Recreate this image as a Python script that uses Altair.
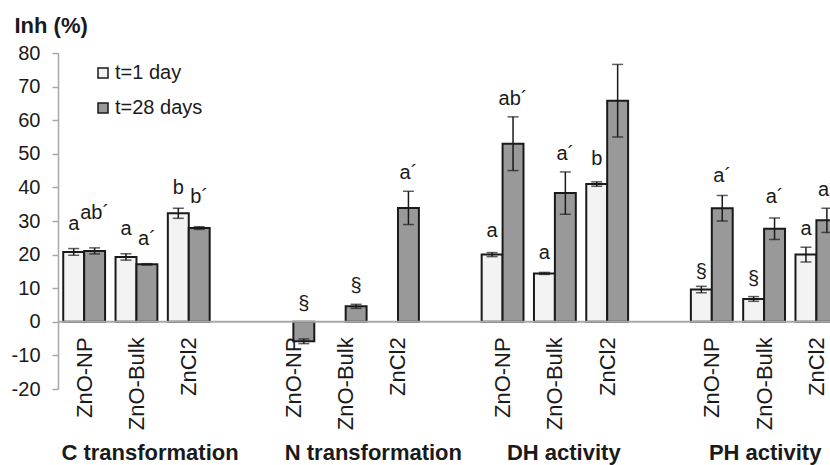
import altair as alt
import pandas as pd

# Categories
GROUPS = ["C transformation", "N transformation", "DH activity", "PH activity"]
COMPOUNDS = ["ZnO-NP", "ZnO-Bulk", "ZnCl2"]
PERIODS = ["t=1 day", "t=28 days"]

# Inhibition (%) per group x compound, in the order of GROUPS then COMPOUNDS
day1_values = [20.8, 19.3, 32.3, None, None, None, 20.0, 14.4, 41.0, 9.6, 6.8, 20.0]
day1_err = [1.0, 0.95, 1.5, None, None, None, 0.6, 0.3, 0.65, 0.95, 0.7, 2.2]
day1_labels = ["a", "a", "b", "", "", "", "a", "a", "b", "§", "§", "a"]

day28_values = [21.1, 17.1, 27.9, -5.8, 4.6, 33.9, 53.0, 38.3, 65.8, 33.8, 27.7, 30.2]
day28_err = [0.9, 0.2, 0.4, 0.7, 0.6, 4.95, 8.0, 6.3, 10.8, 3.8, 3.2, 3.6]
day28_labels = ["ab´", "a´", "b´", "§", "§", "a´", "ab´", "a´", "b´", "a´", "a´", "a´"]

Y_TICKS = list(range(-20, 81, 10))

# Layout (slot units: one slot per compound, one empty slot between groups)
BAR_W = 0.4
GROUP_LABEL_X = [1.26, 5.53, 9.17, 13.02]
# extra lift of the letter labels above the error bar, in axis units
day1_label_lift = [2.0, 2.0, 0.6, 0, 0, 0, 1.0, 0.5, 1.5, -1.0, 0, 0]
day28_label_lift = [5.0, 2.0, 3.6, 0, 0, 0, 0, 0, 0, 0.5, 1.0, 0]
X_MIN, X_MAX = -0.5, 14.26
W, H = 772, 336
Y_MIN, Y_MAX = -20, 80

FILLS = ["#f3f3f3", "#999999"]
INK = "#1a1a1a"
AXIS_GRAY = "#a8a8a8"
FONT = "Liberation Sans"

rows = []
series = [
    (PERIODS[0], day1_values, day1_err, day1_labels, day1_label_lift, -BAR_W),
    (PERIODS[1], day28_values, day28_err, day28_labels, day28_label_lift, 0.0),
]
for period, vals, errs, labs, lifts, shift in series:
    for i, v in enumerate(vals):
        if v is None:
            continue
        g, c = divmod(i, len(COMPOUNDS))
        slot = g * (len(COMPOUNDS) + 1) + c
        x0 = slot + shift
        e = errs[i]
        rows.append({
            "group": GROUPS[g],
            "compound": COMPOUNDS[c],
            "period": period,
            "value": v,
            "lo": v - e,
            "hi": v + e,
            "x0": x0,
            "x1": x0 + BAR_W,
            "xc": x0 + BAR_W / 2,
            "label": labs[i],
            "label_y": max(v + e, 0) + lifts[i],
        })
df = pd.DataFrame(rows)

slot_centers = [g * (len(COMPOUNDS) + 1) + c for g in range(len(GROUPS)) for c in range(len(COMPOUNDS))]
names_js = "[" + ",".join("'%s'" % n for n in COMPOUNDS) + "]"

xscale = alt.Scale(domain=[X_MIN, X_MAX], zero=False, nice=False)
yscale = alt.Scale(domain=[Y_MIN, Y_MAX], zero=False, nice=False)

x_axis = alt.Axis(
    values=slot_centers,
    labelExpr=names_js + "[datum.value % 4]",
    labelAngle=-90,
    labelAlign="right",
    labelBaseline="middle",
    labelFontSize=22,
    labelColor=INK,
    labelPadding=15,
    labelFlush=False,
    labelOverlap=False,
    labelBound=False,
    domain=False,
    ticks=False,
    grid=False,
    title=None,
    offset=-(H * (0 - Y_MIN) / (Y_MAX - Y_MIN)),
)

y_axis = alt.Axis(
    values=Y_TICKS,
    labelExpr="toString(datum.value)",
    grid=False,
    domainColor=AXIS_GRAY,
    domainWidth=1.5,
    tickColor=AXIS_GRAY,
    tickWidth=1.5,
    tickSize=6,
    labelFontSize=20,
    labelColor=INK,
    labelPadding=12,
    labelOverlap=False,
    labelFlush=False,
    title="Inh (%)",
    titleAngle=0,
    titleAlign="left",
    titleBaseline="alphabetic",
    titleX=-44,
    titleY=-21,
    titleFontSize=22,
    titleFontWeight="bold",
    titleColor=INK,
)


def X(field):
    return alt.X(field, type="quantitative", scale=xscale, axis=x_axis)


def Y(field):
    return alt.Y(field, type="quantitative", scale=yscale, axis=y_axis)


base = alt.Chart(df)

bars = base.mark_bar(stroke=INK, strokeWidth=2, clip=True).encode(
    x=X("x0"),
    x2="x1:Q",
    y=Y("value"),
    y2=alt.datum(0),
    color=alt.Color(
        "period:N",
        scale=alt.Scale(domain=PERIODS, range=FILLS),
        legend=alt.Legend(
            title=None,
            orient="none",
            legendX=35,
            legendY=10,
            symbolType="square",
            symbolSize=100,
            symbolStrokeColor=INK,
            symbolStrokeWidth=1.5,
            symbolOpacity=1,
            labelFontSize=20,
            labelColor=INK,
            labelOffset=2,
            rowPadding=15,
            padding=0,
        ),
    ),
)

zero_line = alt.Chart(pd.DataFrame({"y": [0]})).mark_rule(
    color=AXIS_GRAY, strokeWidth=2
).encode(y=Y("y"))

err_stem = base.mark_rule(color=INK, strokeWidth=1.5, clip=True).encode(
    x=X("xc"), y=Y("lo"), y2="hi:Q"
)
err_cap_hi = base.mark_tick(color=INK, orient="horizontal", size=11, thickness=1.5, clip=True).encode(
    x=X("xc"), y=Y("hi")
)
err_cap_lo = base.mark_tick(color=INK, orient="horizontal", size=11, thickness=1.5, clip=True).encode(
    x=X("xc"), y=Y("lo")
)

letters = base.mark_text(
    fontSize=20, color=INK, baseline="alphabetic", dy=-12, clip=True
).encode(
    x=X("xc"), y=Y("label_y"), text="label:N"
)

group_df = pd.DataFrame({"group": GROUPS, "gx": GROUP_LABEL_X})
group_labels = alt.Chart(group_df).mark_text(
    fontSize=22, fontWeight="bold", color=INK, baseline="alphabetic"
).encode(
    x=X("gx"), y=alt.value(407), text="group:N"
)

chart = (
    alt.layer(bars, zero_line, err_stem, err_cap_hi, err_cap_lo, letters, group_labels)
    .properties(
        width=W,
        height=H,
        autosize=alt.AutoSizeParams(type="none"),
        padding={"left": 58, "top": 53, "right": 0, "bottom": 76},
        background="white",
    )
    .configure(font=FONT)
    .configure_view(strokeWidth=0)
)

chart.save("out.html", embed_options={"renderer": "svg", "actions": False})
